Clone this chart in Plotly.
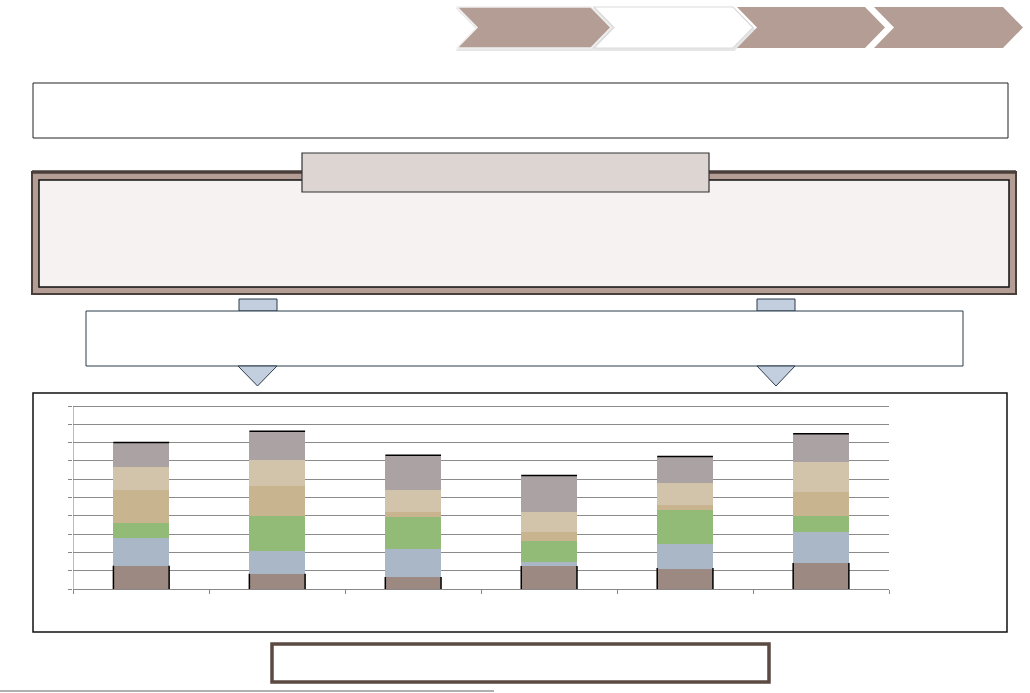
import plotly.graph_objects as go

W, H = 1030, 693

# ---- data ----
categories = ["C1", "C2", "C3", "C4", "C5", "C6"]
seg1 = [1.29, 0.85, 0.67, 1.27, 1.16, 1.44]
seg2 = [1.51, 1.29, 1.58, 0.25, 1.35, 1.73]
seg3 = [0.87, 1.91, 1.71, 1.15, 1.84, 0.85]
seg4 = [1.80, 1.60, 0.27, 0.47, 0.25, 1.31]
seg5 = [1.25, 1.42, 1.24, 1.09, 1.20, 1.64]
seg6 = [1.29, 1.55, 1.84, 1.98, 1.45, 1.51]
y_ticks = list(range(0, 11))

series = [seg1, seg2, seg3, seg4, seg5, seg6]
colors = ["#9c8a82", "#aab7c7", "#91bb76", "#c8b48f", "#d2c4ab", "#aba3a3"]

xs = list(range(len(categories)))
bw = 0.41

fig = go.Figure()
for vals, col in zip(series, colors):
    fig.add_trace(go.Bar(x=xs, y=vals, marker=dict(color=col, line=dict(width=0)),
                         width=bw, showlegend=False, hoverinfo="skip"))

totals = [sum(v) for v in zip(*series)]
# black top edge and black sides of bottom segment
for i, (t, b) in enumerate(zip(totals, seg1)):
    fig.add_trace(go.Scatter(x=[i - bw / 2, i + bw / 2], y=[t, t], mode="lines",
                             line=dict(color="black", width=1.5), showlegend=False, hoverinfo="skip"))
    for dx in (-bw / 2, bw / 2):
        fig.add_trace(go.Scatter(x=[i + dx, i + dx], y=[0, b], mode="lines",
                                 line=dict(color="black", width=1.5), showlegend=False, hoverinfo="skip"))


def px(x):
    return x / W


def py(y):
    return 1 - y / H


shapes = []


def rect(x0, y0, x1, y1, fill, lc, lw, layer="below"):
    shapes.append(dict(type="rect", xref="paper", yref="paper", x0=px(x0), x1=px(x1),
                       y0=py(y1), y1=py(y0), fillcolor=fill,
                       line=dict(color=lc, width=lw), layer=layer))


def poly(pts, fill, lc, lw, layer="below"):
    p = "M " + " L ".join(f"{px(x):.5f},{py(y):.5f}" for x, y in pts) + " Z"
    shapes.append(dict(type="path", xref="paper", yref="paper", path=p, fillcolor=fill,
                       line=dict(color=lc, width=lw), layer=layer))


# chevrons
ct, cb = 7, 48
cm = (ct + cb) / 2
d = 20


def chevron(x0, tip, fill, lc, lw):
    pts = [(x0, ct), (tip - d, ct), (tip, cm), (tip - d, cb), (x0, cb), (x0 + d, cm)]
    poly(pts, fill, lc, lw)


# soft shadows for first two
poly([(457 + 1, 7 + 2), (591 + 1, 7 + 2), (611 + 1, cm + 2), (591 + 1, 48 + 2), (457 + 1, 48 + 2), (477 + 1, cm + 2)],
     "#e6e6e6", "#e6e6e6", 2)
poly([(594 + 1, 7 + 2), (733 + 1, 7 + 2), (753 + 1, cm + 2), (733 + 1, 48 + 2), (594 + 1, 48 + 2), (614 + 1, cm + 2)],
     "#e6e6e6", "#e6e6e6", 2)
chevron(457, 611, "#b39d95", "#f0f0f0", 1.5)
chevron(594, 753, "#ffffff", "#dcdcdc", 1.2)
chevron(737, 885, "#b39d95", "#b39d95", 0)
chevron(874, 1023, "#b39d95", "#b39d95", 0)

# top text box
rect(33, 83, 1008, 138, "white", "#222222", 1)

# big framed panel
rect(32, 172, 1016, 294, "#b39d94", "#4a3f3b", 2)
shapes.append(dict(type="line", xref="paper", yref="paper", x0=px(32), x1=px(1016), y0=py(172), y1=py(172),
                   line=dict(color="#4a3f3b", width=3.5), layer="below"))
rect(39, 180, 1009, 287, "#f5f2f1", "#111111", 1.5)
rect(302, 153, 709, 192, "#ddd5d2", "#333333", 1.2)

# connector tabs
rect(239, 299, 277, 311, "#c3cfdf", "#2b3a4a", 1)
rect(757, 299, 795, 311, "#c3cfdf", "#2b3a4a", 1)

# second text box
rect(86, 311, 963, 366, "white", "#2b3a4a", 1)

# down arrows
poly([(238, 366), (277, 366), (257.5, 386)], "#c3cfdf", "#2b3a4a", 1)
poly([(757, 366), (795, 366), (776, 386)], "#c3cfdf", "#2b3a4a", 1)

# chart frame
rect(33, 393, 1007, 632, "white", "#111111", 1.5)

# bottom box
rect(272, 644, 769, 682, "white", "#5b4a41", 3.5)

# bottom-left grey line
shapes.append(dict(type="line", xref="paper", yref="paper", x0=px(0), x1=px(494), y0=py(691), y1=py(691),
                   line=dict(color="#b0b0b0", width=2), layer="below"))

x_left, x_right = 73.3, 889
y_zero = 589.3
unit_px = 18.33
y_max = 10.08
y_top = y_zero - y_max * unit_px

fig.update_layout(
    width=W, height=H,
    margin=dict(l=0, r=0, t=0, b=0),
    paper_bgcolor="white", plot_bgcolor="rgba(0,0,0,0)",
    barmode="stack", bargap=0,
    shapes=shapes,
    xaxis=dict(domain=[px(x_left), px(x_right)], range=[-0.5, len(categories) - 0.5],
               tickvals=[i - 0.5 for i in range(len(categories) + 1)], showticklabels=False,
               ticks="outside", ticklen=4, tickcolor="#888888", tickwidth=1,
               showgrid=False, zeroline=False, showline=True, linecolor="#888888", linewidth=1,
               fixedrange=True),
    yaxis=dict(domain=[py(y_zero), py(y_top)], range=[0, y_max], tickvals=y_ticks,
               showticklabels=False, ticks="outside", ticklen=4, tickcolor="#888888", tickwidth=1,
               showgrid=True, gridcolor="#8a8a8a", gridwidth=1, zeroline=False,
               showline=False, fixedrange=True),
)
# left axis line from 0 to 10 only
fig.add_trace(go.Scatter(x=[-0.5, -0.5], y=[0, y_ticks[-1]], mode="lines",
                         line=dict(color="#888888", width=1), showlegend=False, hoverinfo="skip",
                         cliponaxis=False))

fig.write_html("out.html", config={"displayModeBar": False},
               post_script="document.body.style.margin='0';document.body.style.overflow='hidden';")
